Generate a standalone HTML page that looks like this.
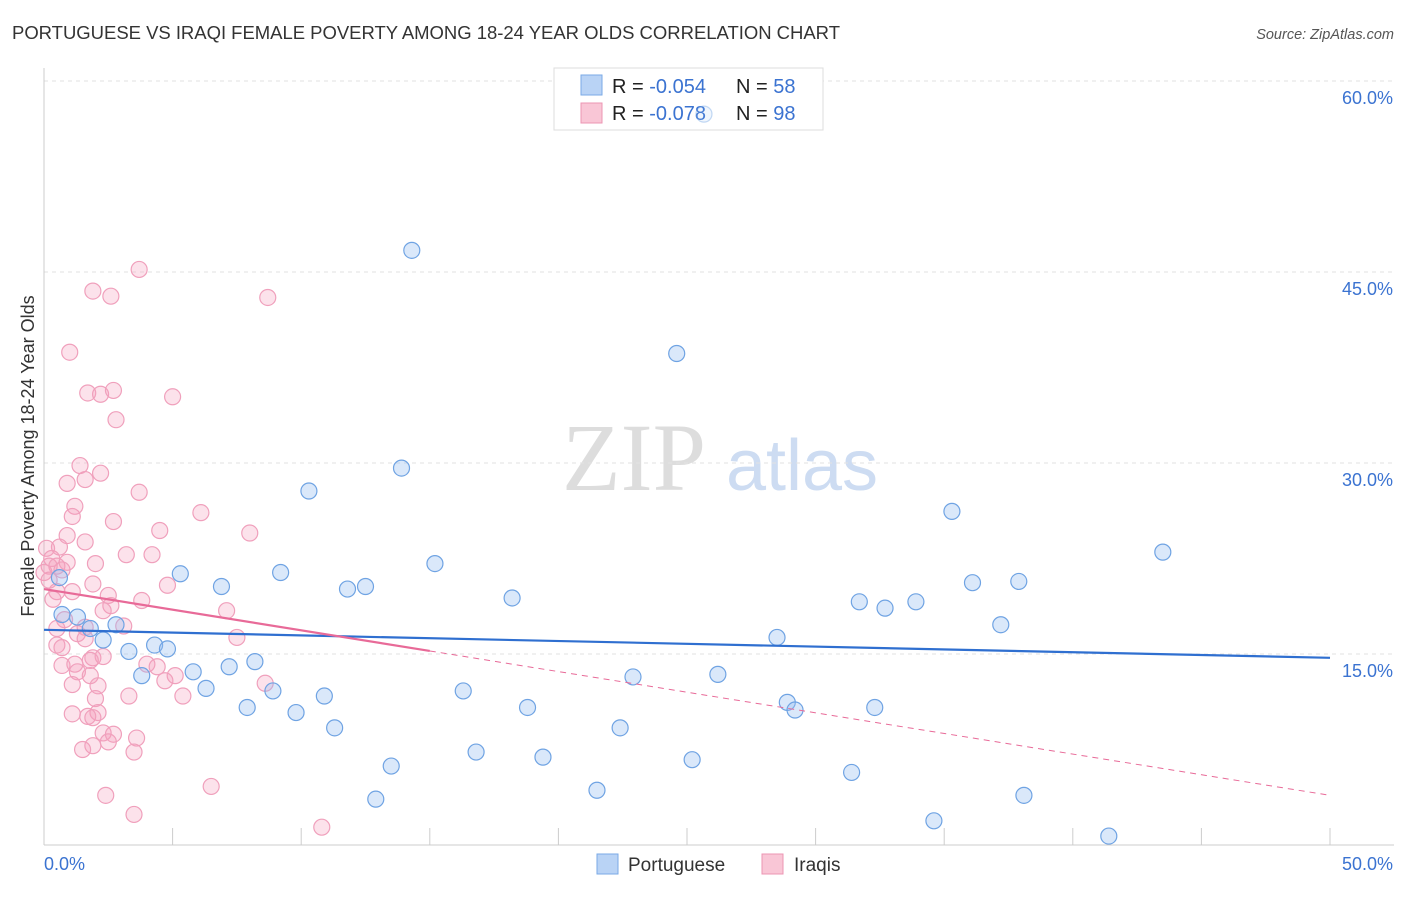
<!DOCTYPE html>
<html><head><meta charset="utf-8"><style>
body{margin:0;background:#fff;font-family:"Liberation Sans",sans-serif}
svg text{font-family:"Liberation Sans",sans-serif}
</style></head><body>
<svg id="c" width="1406" height="892" xmlns="http://www.w3.org/2000/svg">
<text x="12" y="39" font-size="18.5" fill="#333" textLength="828">PORTUGUESE VS IRAQI FEMALE POVERTY AMONG 18-24 YEAR OLDS CORRELATION CHART</text>
<text x="1394" y="39" font-size="14.5" fill="#555" font-style="italic" text-anchor="end">Source: ZipAtlas.com</text>
<g>
<text x="634" y="490" font-size="96" fill="#ddd" font-family="Liberation Serif" text-anchor="middle" style="font-family:'Liberation Serif',serif">ZIP</text>
<text x="802" y="490" font-size="72" fill="#cddcf2" text-anchor="middle">atlas</text>
</g>
<g id="grid"></g>
<g id="axes"></g>
<g>
<rect x="554" y="68" width="269" height="62" fill="#fff" stroke="#ddd"/>
<rect x="581" y="75" width="21" height="20" fill="#b9d3f5" stroke="#7aa9e6"/>
<rect x="581" y="103" width="21" height="20" fill="#f9c6d6" stroke="#ec95b3"/>
<text x="612" y="93" font-size="20" fill="#222">R = <tspan fill="#3b73d1">-0.054</tspan></text>
<text x="736" y="93" font-size="20" fill="#222">N = <tspan fill="#3b73d1">58</tspan></text>
<text x="612" y="120" font-size="20" fill="#222">R = <tspan fill="#3b73d1"> -0.078</tspan></text>
<text x="736" y="120" font-size="20" fill="#222">N = <tspan fill="#3b73d1">98</tspan></text>
</g>
<g id="pts"></g>
<g id="trend"></g>
<text x="34" y="456" font-size="18" fill="#333" text-anchor="middle" transform="rotate(-90 34 456)">Female Poverty Among 18-24 Year Olds</text>
<g>
<rect x="597" y="854" width="21" height="20" fill="#b9d3f5" stroke="#7aa9e6"/>
<text x="628" y="871" font-size="19" fill="#333">Portuguese</text>
<rect x="762" y="854" width="21" height="20" fill="#f9c6d6" stroke="#ec95b3"/>
<text x="794" y="871" font-size="19" fill="#333">Iraqis</text>
</g>
</svg>
<script>
const xTicks=[0,50];
const yTicks=[15,30,45,60];
const portX=[25.66,14.3,24.6,13.9,10.3,35.3,43.5,15.2,5.3,9.2,6.9,11.8,12.5,36.1,37.9,18.2,31.7,32.7,33.9,37.2,0.6,0.7,1.3,1.8,2.8,2.3,3.3,4.3,4.8,28.5,8.2,7.2,5.8,3.8,6.3,8.9,10.9,16.3,22.9,26.2,28.9,29.2,32.3,7.9,9.8,18.8,11.3,22.4,16.8,19.4,25.2,13.5,31.4,21.5,12.9,38.1,34.6,41.4];
const portY=[57.4,46.7,38.6,29.6,27.8,26.2,23.0,22.1,21.3,21.4,20.3,20.1,20.3,20.6,20.7,19.4,19.1,18.6,19.1,17.3,21.0,18.1,17.9,17.0,17.3,16.1,15.2,15.7,15.4,16.3,14.4,14.0,13.6,13.3,12.3,12.1,11.7,12.1,13.2,13.4,11.2,10.6,10.8,10.8,10.4,10.8,9.2,9.2,7.3,6.9,6.7,6.2,5.7,4.3,3.6,3.9,1.9,0.7];
const iraqX=[3.7,1.9,2.6,8.7,1.0,1.7,2.2,2.7,5.0,2.8,1.4,2.2,0.9,1.6,3.7,1.2,1.1,6.1,2.7,4.5,8.0,0.9,1.6,0.6,0.1,3.2,4.2,0.3,0.9,0.2,0.5,2.0,0,0.7,0.2,1.9,4.8,0.5,1.1,2.5,3.8,0.35,2.6,2.3,7.1,0.8,1.6,3.1,0.5,1.3,1.6,7.5,0.5,0.7,1.9,2.3,1.8,4.0,4.4,0.7,1.2,1.3,1.8,5.1,4.7,8.6,1.1,2.1,3.3,5.4,2.0,1.1,2.1,1.7,1.9,2.3,2.7,3.6,1.9,2.5,1.5,3.5,6.5,2.4,3.5,10.8];
const iraqY=[45.2,43.5,43.1,43.0,38.7,35.5,35.4,35.7,35.2,33.4,29.8,29.2,28.4,28.7,27.7,26.6,25.8,26.1,25.4,24.7,24.5,24.3,23.8,23.4,23.3,22.8,22.8,22.5,22.2,21.9,21.9,22.1,21.4,21.6,20.8,20.5,20.4,19.9,19.9,19.6,19.2,19.3,18.8,18.4,18.4,17.7,17.1,17.2,17.0,16.6,16.2,16.3,15.7,15.5,14.7,14.8,14.5,14.2,14.0,14.1,14.2,13.6,13.3,13.3,12.9,12.7,12.6,12.5,11.7,11.7,11.5,10.3,10.4,10.1,10.0,8.8,8.7,8.4,7.8,8.1,7.5,7.3,4.6,3.9,2.4,1.4];
const portTrend=[16.9,14.7];
const iraqTrend=[20.1,3.9];
const X=v=>44+v*1286/50, Y=v=>845-v*191/15;
const NS='http://www.w3.org/2000/svg';
function mk(t,a,p){const e=document.createElementNS(NS,t);for(const k in a)e.setAttribute(k,a[k]);p.appendChild(e);return e;}
const grid=document.getElementById('grid'),axes=document.getElementById('axes'),pts=document.getElementById('pts'),tr=document.getElementById('trend');
yTicks.forEach(t=>{const l=mk('line',{x1:44,x2:1394,y1:Y(t),y2:Y(t),stroke:'#e2e2e2','stroke-dasharray':'4 4'},grid);


const tx=mk('text',{x:1393,y:Y(t)+23,'font-size':18,fill:'#3b73d1','text-anchor':'end'},axes);tx.textContent=t.toFixed(1)+'%';

});
const ax=mk('line',{x1:44,x2:1394,y1:845,y2:845,stroke:'#ccc'},axes);


const ay=mk('line',{x1:44,x2:44,y1:68,y2:845,stroke:'#ccc'},axes);


for(let i=0;i<=10;i++){const tk=mk('line',{x1:X(i*5),x2:X(i*5),y1:828,y2:845,stroke:'#ccc'},axes);

}
xTicks.forEach((t,i)=>{const tx=mk('text',{x:i?1393:44,y:870,'font-size':18,fill:'#3b73d1','text-anchor':i?'end':'start'},axes);tx.textContent=t.toFixed(1)+'%';

});
iraqX.forEach((v,i)=>{const c=mk('circle',{cx:X(v),cy:Y(iraqY[i]),r:8,fill:'rgba(245,160,190,0.3)',stroke:'#f0a0bc','stroke-width':1.2},pts);

});
portX.forEach((v,i)=>{const c=mk('circle',{cx:X(v),cy:Y(portY[i]),r:8,fill:'rgba(150,190,240,0.35)',stroke:'#6fa3e3','stroke-width':1.2,'stroke-opacity':i===0?0.4:1,'fill-opacity':i===0?0.4:1},pts);

});
const pl=mk('line',{x1:X(0),x2:X(50),y1:Y(portTrend[0]),y2:Y(portTrend[1]),stroke:'#2f6fd0','stroke-width':2.2},tr);


const iy=x=>iraqTrend[0]+(iraqTrend[1]-iraqTrend[0])*x/50;
const il=mk('line',{x1:X(0),x2:X(15),y1:Y(iy(0)),y2:Y(iy(15)),stroke:'#e86a98','stroke-width':2.2},tr);


const id=mk('line',{x1:X(15),x2:X(50),y1:Y(iy(15)),y2:Y(iy(50)),stroke:'#e86a98','stroke-width':1,'stroke-dasharray':'6 5'},tr);


</script>
</body></html>
